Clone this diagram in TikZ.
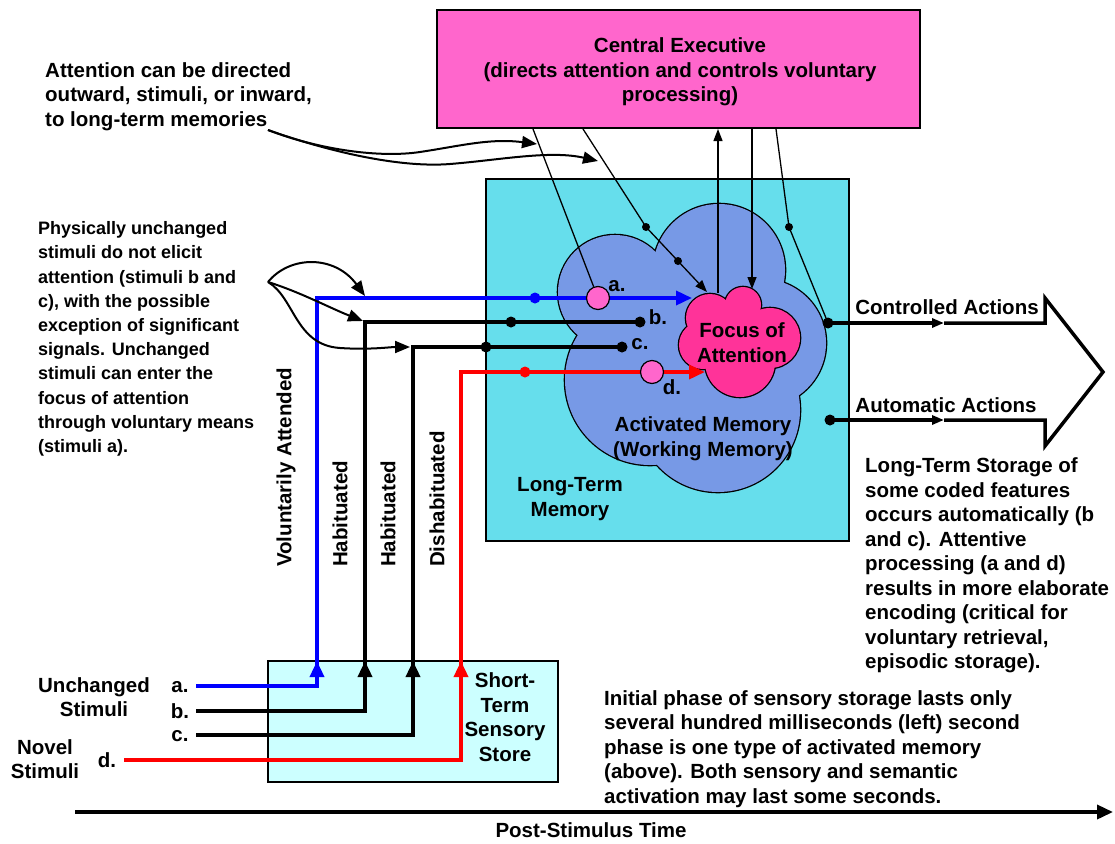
\documentclass[tikz,border=0pt]{standalone}
\usepackage{fontspec}
\setmainfont{Liberation Sans}
\usetikzlibrary{arrows.meta}

\definecolor{execpink}{RGB}{255,102,204}
\definecolor{ltmcyan}{RGB}{102,222,236}
\definecolor{wmblue}{RGB}{119,153,230}
\definecolor{focuspink}{RGB}{255,51,153}
\definecolor{storecyan}{RGB}{204,255,255}

\tikzstyle{txt}=[font=\bfseries\fontsize{20.5}{24.5}\selectfont, inner sep=0pt]
\tikzstyle{smalltxt}=[font=\bfseries\fontsize{18}{24.2}\selectfont, inner sep=0pt]
\tikzstyle{stim}=[draw, line width=3.5pt, line join=miter]
\tikzstyle{thinline}=[draw, line width=1.3pt]
\tikzstyle{actline}=[draw, line width=3.5pt, line join=miter]
\tikzstyle{curveline}=[draw, line width=2pt]
\tikzstyle{bigarrow}=[-{Triangle[length=16pt,width=14pt]}]
\tikzstyle{smallarrow}=[-{Triangle[length=12pt,width=9pt]}]
\tikzstyle{curvearrow}=[-{Triangle[length=15pt,width=12pt]}]
\tikzstyle{bigdot}=[fill, circle, minimum size=11pt, inner sep=0pt]
\tikzstyle{smalldot}=[fill, circle, minimum size=8pt, inner sep=0pt]
\tikzstyle{stimdot}=[draw, line width=1.2pt, fill=execpink, circle, minimum size=23pt, inner sep=0pt]
\newcommand{\wmlobes}{719/270/66, 615/292/57, 650/380/85, 718/410/82, 762/343/64}
\newcommand{\focuslobes}{710/318/24, 743/305/18, 770/338/30, 740/362/35, 703/345/24, 740/335/25}

\begin{document}
\begin{tikzpicture}[x=1pt, y=-1pt]
    \useasboundingbox (0,0) rectangle (1115,843);
    % First we draw the long-term memory and the two clouds
    \draw[fill=ltmcyan, line width=1.3pt] (486,179) rectangle (849,541);
    \foreach \cx/\cy/\rad in \wmlobes
        \draw[line width=2.6pt] (\cx,\cy) circle (\rad);
    \foreach \cx/\cy/\rad in \wmlobes
        \fill[wmblue] (\cx,\cy) circle (\rad);
    \foreach \cx/\cy/\rad in \focuslobes
        \draw[line width=2.6pt] (\cx,\cy) circle (\rad);
    \foreach \cx/\cy/\rad in \focuslobes
        \fill[focuspink] (\cx,\cy) circle (\rad);
    \node[txt, align=center] (focus) at (742,342.5) {Focus of\\Attention};
    \node[txt, align=center] (wm) at (703,438.5) {Activated Memory\\(Working Memory)};
    \node[txt, align=center] (ltm) at (570,499) {Long-Term\\Memory};

    % Boxes
    \draw[fill=execpink, line width=1.3pt] (437,10) rectangle (920,128);
    \node[txt, align=center] (ce) at (680,72)
        {Central Executive\\(directs attention and controls voluntary\\processing)};
    \draw[fill=storecyan, line width=1.3pt] (268,661) rectangle (558,782);
    \node[txt, align=center] (stss) at (505,717) {Short-\\Term\\Sensory\\Store};

    % Points of the stimulus paths
    \foreach \px/\py/\pname in {196/686/ia, 196/711/ib, 196/735/ic, 124/760/id,
            317/686/ka, 365/711/kb, 413/735/kc, 461/760/kd,
            317/661/ua, 365/661/ub, 413/661/uc, 461/661/ud,
            317/298/ha, 365/322/hb, 413/347/hc, 461/372/hd,
            692/298/ea, 640/322/eb, 622/347/ec, 705/372/ed,
            535/298/ma, 511/322/mb, 486/347/mc, 525/372/md}
        \coordinate (\pname) at (\px,\py);
    \draw[stim, blue, bigarrow] (ia) -- (ka) -- (ha) -- (ea);
    \draw[stim] (ib) -- (kb) -- (hb) -- (eb);
    \draw[stim] (ic) -- (kc) -- (hc) -- (ec);
    \draw[stim, red, bigarrow] (id) -- (kd) -- (hd) -- (ed);
    \foreach \k/\u/\col in {ka/ua/blue, kb/ub/black, kc/uc/black, kd/ud/red}
        \draw[stim, \col, bigarrow] (\k) -- (\u);
    \foreach \pname/\col in {ma/blue, mb/black, mc/black, md/red, eb/black, ec/black}
        \node[bigdot, fill=\col] (d\pname) at (\pname) {};
    \node[stimdot] (pa) at (598,298) {};
    \node[stimdot] (pd) at (652,372) {};

    % Stimulus labels
    \foreach \px/\py/\pname/\lab in {617/286/la/a., 658/317/lb/b., 640/344/lc/c., 672/387/ld/d.,
            180/687/sa/a., 180/711/sb/b., 180/736/sc/c., 107/760/sd/d.}
        \node[txt] (\pname) at (\px,\py) {\lab};
    \node[txt, align=center] (unch) at (94,697) {Unchanged\\Stimuli};
    \node[txt, align=center] (novel) at (45,759) {Novel\\Stimuli};
    \foreach \px/\pname/\lab in {286/vol/Voluntarily Attended, 340/hab1/Habituated, 388/hab2/Habituated, 437/dis/Dishabituated}
        \node[txt, rotate=90, anchor=west] (\pname) at (\px,567) {\lab};

    % Lines from and to the central executive
    \foreach \px/\py/\pname in {533/129/t1, 583/129/t2, 718/129/t3, 752/129/t4, 776/129/t5,
            646/227/k2, 678/261/m2, 707/292/e2, 718/293/f3, 752/289/f4,
            789/227/k5, 828/323/cd, 830/420/ad}
        \coordinate (\pname) at (\px,\py);
    \draw[thinline] (t1) -- (pa);
    \draw[thinline, smallarrow] (t2) -- (k2) -- (e2);
    \draw[thinline, smallarrow] (f3) -- (t3);
    \draw[thinline, smallarrow] (t4) -- (f4);
    \draw[thinline] (t5) -- (k5) -- (cd);
    \foreach \pname in {k2, m2, k5}
        \node[smalldot] (d\pname) at (\pname) {};

    % Actions
    \foreach \px/\py/\pname in {944/323/cm, 944/420/am, 1045/323/b1, 1045/298/b2,
            1103/372/b3, 1045/446/b4, 1045/420/b5}
        \coordinate (\pname) at (\px,\py);
    \draw[actline] (cm) -- (b1) -- (b2) -- (b3) -- (b4) -- (b5) -- (am);
    \draw[actline, smallarrow] (cd) -- (cm);
    \draw[actline, smallarrow] (ad) -- (am);
    \node[bigdot] (dcd) at (cd) {};
    \node[bigdot] (dad) at (ad) {};
    \node[txt] (ctrl) at (947,307) {Controlled Actions};
    \node[txt] (auto) at (946,405) {Automatic Actions};

    % Curved pointers from the notes
    \foreach \px/\py/\pname in {268/282/s1, 365/296/q1, 363/321/q2, 410/347/q3,
            268/130/s2, 537/144/r1, 598/161/r2}
        \coordinate (\pname) at (\px,\py);
    \draw[curveline, curvearrow] (s1) .. controls (290,255) and (335,255) .. (q1);
    \draw[curveline, curvearrow] (s1) .. controls (300,292) and (330,308) .. (q2);
    \draw[curveline, curvearrow] (s1) .. controls (295,298) and (295,345) .. (340,348) .. controls (370,350) and (390,347) .. (q3);
    \draw[curveline, curvearrow] (s2) .. controls (320,150) and (380,158) .. (420,152) .. controls (460,146) and (490,138) .. (r1);
    \draw[curveline, curvearrow] (s2) .. controls (330,152) and (400,168) .. (450,164) .. controls (500,160) and (550,150) .. (r2);

    % Notes
    \node[txt, align=left, anchor=west] (attn) at (45,96.5)
        {Attention can be directed\\outward, stimuli, or inward,\\to long-term memories};
    \node[smalltxt, align=left, anchor=west] (phys) at (38,339)
        {Physically unchanged\\stimuli do not elicit\\attention (stimuli b and\\c), with the possible\\exception of significant\\signals. Unchanged\\stimuli can enter the\\focus of attention\\through voluntary means\\(stimuli a).};
    \node[txt, align=left, anchor=west] (lts) at (865,565.5)
        {Long-Term Storage of\\some coded features\\occurs automatically (b\\and c). Attentive\\processing (a and d)\\results in more elaborate\\encoding (critical for\\voluntary retrieval,\\episodic storage).};
    \node[txt, align=left, anchor=west] (init) at (604,749)
        {Initial phase of sensory storage lasts only\\several hundred milliseconds (left) second\\phase is one type of activated memory\\(above). Both sensory and semantic\\activation may last some seconds.};

    % Time axis
    \coordinate (ax0) at (75,812);
    \coordinate (ax1) at (1113,812);
    \draw[actline, bigarrow] (ax0) -- (ax1);
    \node[txt] (time) at (591,830) {Post-Stimulus Time};
\end{tikzpicture}
\end{document}
